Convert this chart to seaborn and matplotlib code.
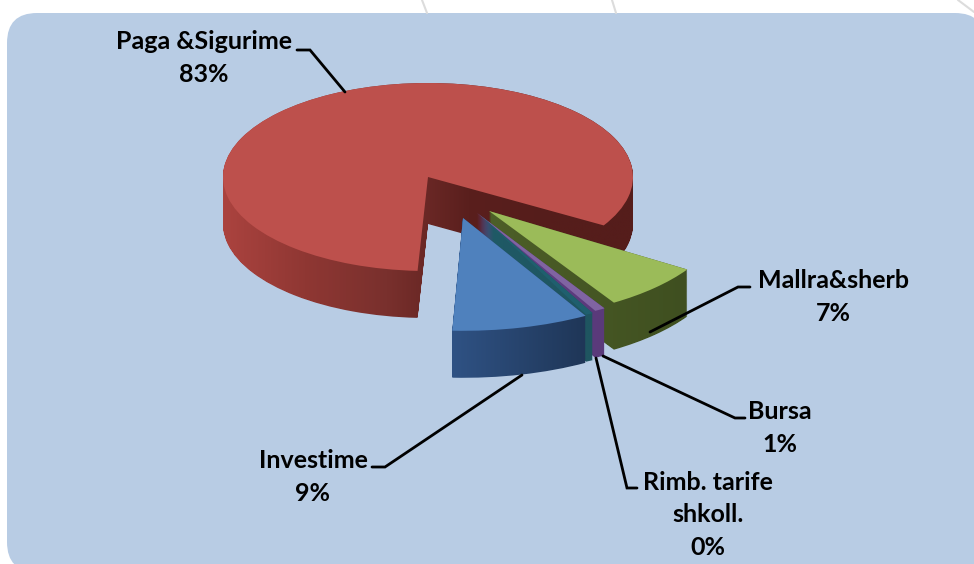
import matplotlib
matplotlib.use("Agg")
import matplotlib.pyplot as plt
import numpy as np
import seaborn as sns
from matplotlib.patches import FancyBboxPatch
from matplotlib.path import Path

# shares in pie order (counterclockwise)
names = ["Paga &Sigurime", "Investime", "Rimb. tarife\nshkoll.", "Bursa", "Mallra&sherb"]
shares = [82.8, 9.0, 0.49, 0.7, 7.01]
shown = ["83%", "9%", "0%", "1%", "7%"]

top_colors = ["#bd504c", "#4f81bd", "#1f5f6e", "#8064a2", "#9bbb59"]
side_colors = [
    ["#ab433f", "#8f3733", "#79302d", "#5a1f1d", "#551d1b", "#551d1b"],
    ["#2f5284", "#1f3657"],
    ["#1f5a66", "#1f5560"],
    ["#63408a", "#5a3a7a"],
    ["#4d5f28", "#3f4f20"],
]

# each slice sits on its own tip (pixels), first edge angle and radius
tips = [(428, 177), (463, 218), (480, 215), (477, 213), (489, 211)]
first_edge = [-31, -92.5, -64, -61, -58]
radius = [1, 1.2, 1.18, 1.19, 1.15]
draw_order = [0, 4, 3, 2, 1]

W, H = 974, 564
cx, cy, rx, ry = 428, 177, 205, 94
depth = 47 / ry

# label centre, then leader line points
label_xy = [(204, 58), (313, 477), (708, 515), (780, 428), (833, 297)]
leaders = [
    [(297, 50), (310, 50), (345, 92)],
    [(372, 467), (385, 467), (522, 375)],
    [(637, 488), (627, 488), (596, 358)],
    [(745, 418), (735, 418), (603, 356)],
    [(750, 287), (738, 287), (650, 332)],
]
faint_lines = [[(422, 0), (427, 13)], [(612, 0), (616, 13)], [(958, 0), (974, 12)]]

sns.set_theme(style="white")
plt.rcParams["font.family"] = ["Lato", "DejaVu Sans"]

fig = plt.figure(figsize=(W / 100, H / 100), dpi=100, facecolor="white")

# background panel
bg = fig.add_axes([0, 0, 1, 1], zorder=0)
bg.set_xlim(0, W)
bg.set_ylim(H, 0)
bg.axis("off")
bg.add_patch(FancyBboxPatch((7, 13), 978, 559, boxstyle="round,pad=0,rounding_size=30",
                            facecolor="#b8cce4", edgecolor="none"))
for line in faint_lines:
    xs, ys = zip(*line)
    bg.plot(xs, ys, color="#dcdcdc", lw=1.5)

# pie axes, squashed so that a unit circle is the tilted ellipse
ax = fig.add_axes([0, 0, 1, 1], zorder=1)
ax.patch.set_alpha(0)

before = np.cumsum([0] + shares[:-1]) / sum(shares) * 360
for z, i in enumerate(draw_order):
    center = ((tips[i][0] - cx) / rx, (cy - tips[i][1]) / ry)
    wedges, _ = ax.pie(shares, startangle=first_edge[i] - before[i], radius=radius[i],
                       center=center, colors=top_colors, wedgeprops={"linewidth": 0})
    for j, w in enumerate(wedges):
        if j != i:
            w.remove()
    wedge = wedges[i]
    wedge.set_zorder(z * 2 + 1)

    # side wall: the slice swept downwards, filled with a horizontal gradient
    path = wedge.get_path()
    copies = [Path(path.vertices - [0, k], path.codes) for k in np.linspace(0, depth, 50)]
    sweep = Path.make_compound_path(*copies)
    box = sweep.get_extents()
    cmap = sns.blend_palette(side_colors[i], as_cmap=True)
    img = ax.imshow(np.linspace(0, 1, 256)[None, :], cmap=cmap, aspect="auto", zorder=z * 2,
                    extent=(box.x0, box.x1, box.y0, box.y1))
    img.set_clip_path(sweep, ax.transData)

ax.set_aspect("auto")
ax.set_xlim((0 - cx) / rx, (W - cx) / rx)
ax.set_ylim((cy - H) / ry, cy / ry)
ax.set_frame_on(False)

# labels and leader lines
top = fig.add_axes([0, 0, 1, 1], zorder=2)
top.patch.set_alpha(0)
top.set_xlim(0, W)
top.set_ylim(H, 0)
top.axis("off")
for name, pct, xy, line in zip(names, shown, label_xy, leaders):
    top.text(xy[0], xy[1], name + "\n" + pct, ha="center", va="center", fontsize=18,
             fontweight="bold", color="black", linespacing=1.5)
    xs, ys = zip(*line)
    top.plot(xs, ys, color="black", lw=2, solid_joinstyle="miter")

fig.savefig("out.png", dpi=100)
